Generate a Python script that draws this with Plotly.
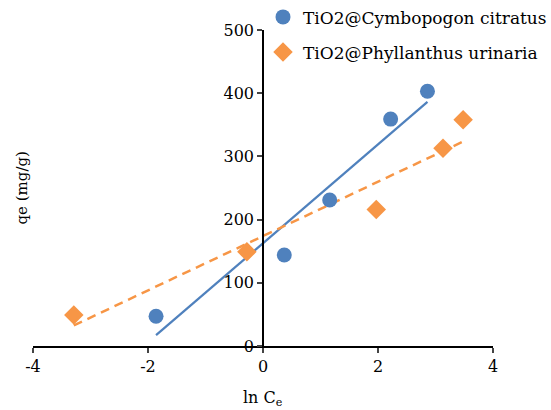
import numpy as np
import plotly.graph_objects as go

# Data
cymbo_x = [-1.86, 0.37, 1.16, 2.22, 2.86]
cymbo_y = [47, 144, 231, 359, 403]
phyl_x = [-3.29, -0.28, 1.97, 3.13, 3.48]
phyl_y = [49, 149, 216, 313, 358]
x_ticks = [-4, -2, 0, 2, 4]
x_tick_text = ["-4", "-2", "0", "2", "4"]
y_ticks = [0, 100, 200, 300, 400, 500]

blue = "#4F81BD"
orange = "#F79646"
font_family = "DejaVu Serif"

def trend(xs, ys):
    m, b = np.polyfit(xs, ys, 1)
    xx = np.array([min(xs), max(xs)])
    return xx, m * xx + b

fig = go.Figure()

bx, by = trend(cymbo_x, cymbo_y)
px_, py_ = trend(phyl_x, phyl_y)

fig.add_trace(go.Scatter(x=bx, y=by, mode="lines", showlegend=False,
                         line=dict(color=blue, width=2.25), hoverinfo="skip"))
fig.add_trace(go.Scatter(x=px_, y=py_, mode="lines", showlegend=False,
                         line=dict(color=orange, width=2.5, dash="9px,6px"), hoverinfo="skip"))

fig.add_trace(go.Scatter(x=cymbo_x, y=cymbo_y, mode="markers",
                         name="TiO2@Cymbopogon citratus", legendgroup="a",
                         marker=dict(symbol="circle", size=15, color=blue)))
fig.add_trace(go.Scatter(x=phyl_x, y=phyl_y, mode="markers",
                         name="TiO2@Phyllanthus urinaria", legendgroup="b",
                         marker=dict(symbol="diamond", size=15, color=orange)))

fig.update_layout(
    width=551, height=410,
    margin=dict(l=33, r=58, t=30, b=64, autoexpand=False),
    paper_bgcolor="white", plot_bgcolor="white",
    font=dict(family=font_family, size=16, color="black"),
    legend=dict(x=0.50, y=1.097, xanchor="left", yanchor="top",
                bgcolor="rgba(0,0,0,0)", traceorder="grouped",
                tracegroupgap=10, font=dict(size=17)),
    xaxis=dict(range=[-4, 4], tickvals=x_ticks, ticktext=x_tick_text,
               ticks="outside", ticklen=5,
               tickwidth=1.5, showline=True, linecolor="black", linewidth=1.5,
               showgrid=False, zeroline=False),
    yaxis=dict(range=[0, 500], tickvals=y_ticks, ticks="outside", ticklen=5,
               tickwidth=1.5, showline=True, linecolor="black", linewidth=1.5,
               showgrid=False, zeroline=False, anchor="free", position=0.5),
    annotations=[
        dict(text="qe (mg/g)", x=-0.025, y=0.5, xref="paper", yref="paper",
             textangle=-90, showarrow=False, font=dict(size=15),
             xanchor="center", yanchor="middle"),
        dict(text="ln C<sub>e</sub>", x=0.5, y=-0.125, xref="paper", yref="paper",
             showarrow=False, xanchor="center", yanchor="top"),
    ],
)

fig.write_html("out.html")
